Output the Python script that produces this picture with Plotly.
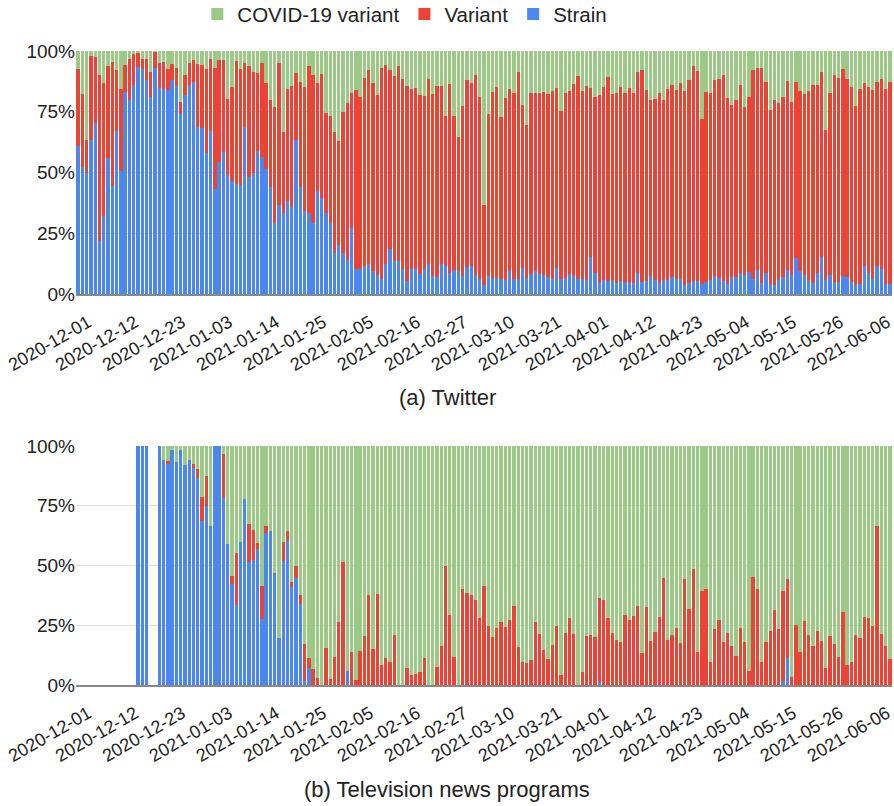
import pandas as pd
import plotly.graph_objects as go

dates = [d.strftime("%Y-%m-%d") for d in pd.date_range("2020-12-01", periods=191, freq="D")]
tick_dates = dates[0:191:11]

# ---------------- (a) Twitter: share of each term (%) ----------------
tw_strain = [61.1, 52.1, 49.9, 63.4, 70.3, 21.8, 32.2, 55.9, 44.5, 67.1, 50.7, 83.0, 79.7, 86.0, 93.3, 92.5,
             88.2, 81.0, 93.0, 84.9, 84.2, 84.0, 87.9, 85.8, 74.2, 81.9, 85.9, 87.4, 68.6, 68.4, 57.9, 67.1,
             43.2, 54.2, 58.6, 48.9, 46.6, 45.3, 44.8, 68.6, 48.2, 49.9, 58.9, 56.4, 51.4, 44.1, 29.3, 36.7,
             33.4, 38.4, 35.8, 63.4, 44.1, 34.0, 33.3, 29.2, 42.2, 39.5, 33.3, 29.2, 16.8, 20.0, 16.8, 14.0,
             27.1, 10.3, 10.3, 11.4, 12.5, 9.6, 7.7, 6.2, 12.3, 18.4, 13.7, 13.4, 10.3, 5.5, 10.3, 10.3,
             8.4, 10.1, 12.5, 7.3, 7.0, 12.5, 11.6, 8.5, 9.7, 9.5, 7.3, 11.0, 11.5, 7.8, 6.2, 3.6,
             7.3, 6.7, 6.6, 6.2, 5.6, 9.5, 6.2, 6.2, 10.7, 6.6, 8.2, 9.3, 8.4, 7.8, 7.0, 6.0,
             10.8, 6.0, 6.7, 8.2, 7.3, 6.2, 6.0, 5.8, 15.3, 8.6, 4.7, 5.8, 5.5, 5.8, 4.7, 5.2,
             5.1, 4.4, 4.7, 8.6, 4.9, 5.3, 7.5, 5.6, 4.7, 5.8, 5.6, 7.0, 6.2, 6.2, 3.8, 4.7,
             5.2, 5.3, 4.1, 5.1, 5.8, 7.3, 6.7, 5.3, 4.1, 6.8, 6.8, 8.6, 7.8, 9.2, 6.0, 9.9,
             4.7, 8.6, 4.1, 3.8, 5.8, 7.0, 10.0, 7.8, 14.9, 9.3, 7.8, 5.8, 4.7, 8.6, 15.3, 5.8,
             7.7, 5.1, 5.1, 7.3, 7.0, 5.1, 3.8, 4.1, 11.6, 8.5, 6.2, 11.6, 10.1, 4.1, 4.1]
tw_variant = [31.5, 30.2, 13.5, 34.7, 27.1, 68.3, 54.5, 37.8, 51.0, 25.2, 33.7, 11.2, 16.9, 12.6, 5.9, 4.1,
              8.4, 10.2, 6.6, 10.0, 11.3, 8.6, 6.8, 7.2, 5.0, 8.2, 9.0, 8.9, 26.1, 25.7, 34.7, 29.5,
              50.0, 42.1, 37.7, 31.4, 38.7, 50.6, 47.8, 26.3, 45.6, 41.5, 32.1, 38.5, 35.3, 35.8, 47.7, 58.2,
              33.2, 46.0, 49.7, 27.4, 43.3, 51.2, 60.4, 61.1, 44.5, 51.0, 41.1, 44.1, 49.8, 43.0, 58.3, 64.8,
              55.8, 73.8, 70.7, 77.6, 79.7, 77.4, 74.2, 86.8, 81.9, 73.8, 76.0, 80.3, 78.1, 80.3, 73.9, 74.5,
              73.5, 71.3, 76.1, 75.0, 78.8, 73.0, 61.7, 77.9, 63.6, 55.2, 70.2, 76.9, 75.5, 82.5, 75.0, 33.0,
              66.8, 76.5, 78.7, 66.5, 75.2, 74.7, 76.7, 85.0, 67.1, 63.0, 74.4, 73.6, 74.5, 75.5, 75.3, 77.6,
              73.9, 69.3, 76.2, 75.5, 79.1, 83.4, 77.7, 79.8, 69.4, 72.4, 77.2, 79.4, 83.7, 76.5, 77.9, 80.0,
              77.8, 80.3, 77.9, 82.8, 87.4, 78.8, 72.2, 74.8, 78.2, 74.1, 78.8, 79.0, 77.8, 80.8, 79.8, 83.2,
              88.5, 86.5, 68.1, 78.2, 76.9, 80.8, 81.9, 85.0, 76.7, 71.0, 73.1, 77.6, 69.2, 71.9, 86.3, 83.1,
              88.3, 78.5, 71.7, 76.2, 72.7, 74.2, 77.7, 71.1, 72.2, 74.4, 74.5, 77.8, 81.5, 77.6, 76.1, 61.7,
              75.0, 85.2, 83.9, 85.3, 81.4, 80.2, 73.6, 80.1, 75.1, 76.6, 77.9, 75.8, 78.5, 80.4, 83.3]
tw_covid = [7.4, 17.7, 36.6, 1.9, 2.6, 9.9, 13.3, 6.3, 4.5, 7.7, 15.6, 5.8, 3.4, 1.4, 0.8, 3.4,
            3.4, 8.8, 0.4, 5.1, 4.5, 7.4, 5.3, 7.0, 20.8, 9.9, 5.1, 3.7, 5.3, 5.9, 7.4, 3.4,
            6.8, 3.7, 3.7, 19.7, 14.7, 4.1, 7.4, 5.1, 6.2, 8.6, 9.0, 5.1, 13.3, 20.1, 23.0, 5.1,
            33.4, 15.6, 14.5, 9.2, 12.6, 14.8, 6.3, 9.7, 13.3, 9.5, 25.6, 26.7, 33.4, 37.0, 24.9, 21.2,
            17.1, 15.9, 19.0, 11.0, 7.8, 13.0, 18.1, 7.0, 5.8, 7.8, 10.3, 6.3, 11.6, 14.2, 15.8, 15.2,
            18.1, 18.6, 11.4, 17.7, 14.2, 14.5, 26.7, 13.6, 26.7, 35.3, 22.5, 12.1, 13.0, 9.7, 18.8, 63.4,
            25.9, 16.8, 14.7, 27.3, 19.2, 15.8, 17.1, 8.8, 22.2, 30.4, 17.4, 17.1, 17.1, 16.7, 17.7, 16.4,
            15.3, 24.7, 17.1, 16.3, 13.6, 10.4, 16.3, 14.4, 15.3, 19.0, 18.1, 14.8, 10.8, 17.7, 17.4, 14.8,
            17.1, 15.3, 17.4, 8.6, 7.7, 15.9, 20.3, 19.6, 17.1, 20.1, 15.6, 14.0, 16.0, 13.0, 16.4, 12.1,
            6.3, 8.2, 27.8, 16.7, 17.3, 11.9, 11.4, 9.7, 19.2, 22.2, 20.1, 13.8, 23.0, 18.9, 7.7, 7.0,
            7.0, 12.9, 24.2, 20.0, 21.5, 18.8, 12.3, 21.1, 12.9, 16.3, 17.7, 16.4, 13.8, 13.8, 8.6, 32.5,
            17.3, 9.7, 11.0, 7.4, 11.6, 14.7, 22.6, 15.8, 13.3, 14.9, 15.9, 12.6, 11.4, 15.5, 12.6]

# ---------------- (b) Television news programs (%) ----------------
N = None
tv_strain = [N, N, N, N, N, N, N, N, N, N, N, N, N, N, 100, 100,
             100, N, N, 100, 94.0, 92.5, 98.2, 93.3, 98.2, 92.2, 94.0, 90.7, 86.4, 68.5, 74.8, 66.4,
             100, 100, 78.4, 58.9, 42.2, 33.3, 59.9, 77.7, 51.5, 52.2, 57.1, 27.6, 63.4, 64.3, 46.7, 19.8,
             51.8, 60.3, 41.1, 44.6, 33.7, 1.8, 7.2, 0, 0, 0, 0, 0, 0, 0, 0, 6.0,
             0, 0, 0, 0, 0, 0, 0, 0, 0, 0, 0, 0, 0, 0, 0, 0,
             0, 0, 0, 0, 0, 0, 0, 0, 0, 0, 0, 0, 0, 0, 0, 0,
             0, 0, 0, 0, 0, 0, 0, 0, 0, 0, 0, 0, 0, 0, 0, 0,
             0, 0, 0, 0, 0, 0, 0, 0, 0, 0, 1.1, 0, 0, 0, 0, 0,
             0, 0, 0, 0, 0, 0, 0, 0, 0, 0, 0, 0, 0, 0, 0, 0,
             0, 0, 0, 0, 0, 0, 0, 0, 0, 0, 0, 0, 0, 0, 0, 0,
             0, 0, 0, 0, 0, 1.8, 11.1, 0, 0, 0, 0, 0, 0, 0, 0, 0,
             0, 0, 0, 0, 0, 0, 0, 0, 0, 0, 0, 0, 0, 0, 0]
tv_variant = [N, N, N, N, N, N, N, N, N, N, N, N, N, N, 0, 0,
              0, N, N, 0, 0, 1.1, 0, 0, 0, 0, 0, 1.9, 3.9, 10.2, 12.7, 0,
              0, 0, 18.1, 0, 3.3, 22.1, 0, 0, 16.0, 12.6, 2.4, 13.8, 3.0, 0, 0, 0,
              8.1, 4.0, 2.1, 5.3, 3.9, 15.3, 3.9, 6.7, 3.1, 0, 15.6, 2.5, 11.8, 26.5, 51.5, 0,
              13.9, 2.1, 14.2, 20.5, 37.6, 14.9, 38.0, 8.4, 11.1, 9.7, 20.9, 0, 0, 7.2, 4.2, 4.6,
              5.3, 11.1, 0, 0, 7.7, 16.4, 49.9, 29.2, 11.8, 0, 40.0, 38.6, 37.6, 35.5, 28.1, 41.5,
              24.8, 20.2, 24.0, 26.5, 24.4, 27.2, 33.1, 15.9, 9.5, 9.2, 10.3, 26.2, 21.3, 14.6, 10.7, 16.7,
              24.8, 4.2, 21.6, 27.9, 21.2, 0, 5.6, 20.3, 20.8, 20.1, 35.5, 35.5, 27.9, 21.9, 18.8, 18.1,
              29.2, 27.2, 28.8, 33.1, 13.4, 32.5, 18.4, 22.3, 28.4, 44.6, 18.8, 20.9, 24.0, 17.4, 44.3, 32.0,
              48.5, 13.9, 39.3, 40.1, 9.7, 23.4, 27.0, 18.1, 21.6, 16.4, 12.3, 24.0, 17.8, 5.8, 45.3, 40.0,
              9.5, 18.1, 22.6, 31.3, 23.3, 37.5, 33.2, 3.5, 25.1, 13.6, 26.7, 20.9, 16.4, 22.8, 18.4, 7.0,
              20.3, 17.1, 11.8, 30.6, 8.4, 9.5, 20.9, 19.8, 28.3, 28.0, 24.8, 66.4, 21.2, 16.4, 10.7]
tv_covid = [N, N, N, N, N, N, N, N, N, N, N, N, N, N, 0, 0,
            0, N, N, 0, 6.0, 6.4, 1.8, 6.7, 1.8, 7.8, 6.0, 7.4, 9.7, 21.3, 12.5, 33.6,
            0, 0, 3.5, 41.1, 54.5, 44.6, 40.1, 22.3, 32.5, 35.2, 40.5, 58.6, 33.6, 35.7, 53.3, 80.2,
            40.1, 35.7, 56.8, 50.1, 62.4, 82.9, 88.9, 93.3, 96.9, 100, 84.4, 97.5, 88.2, 73.5, 48.5, 94.0,
            86.1, 97.9, 85.8, 79.5, 62.4, 85.1, 62.0, 91.6, 88.9, 90.3, 79.1, 100, 100, 92.8, 95.8, 95.4,
            94.7, 88.9, 100, 100, 92.3, 83.6, 50.1, 70.8, 88.2, 100, 60.0, 61.4, 62.4, 64.5, 71.9, 58.5,
            75.2, 79.8, 76.0, 73.5, 75.6, 72.8, 66.9, 84.1, 90.5, 90.8, 89.7, 73.8, 78.7, 85.4, 89.3, 83.3,
            75.2, 95.8, 78.4, 72.1, 78.8, 100, 94.4, 79.7, 79.2, 79.9, 63.4, 64.5, 72.1, 78.1, 81.2, 81.9,
            70.8, 72.8, 71.2, 66.9, 86.6, 67.5, 81.6, 77.7, 71.6, 55.4, 81.2, 79.1, 76.0, 82.6, 55.7, 68.0,
            51.5, 86.1, 60.7, 59.9, 90.3, 76.6, 73.0, 81.9, 78.4, 83.6, 87.7, 76.0, 82.2, 94.2, 54.7, 60.0,
            90.5, 81.9, 77.4, 68.7, 76.7, 60.7, 55.7, 96.5, 74.9, 86.4, 73.3, 79.1, 83.6, 77.2, 81.6, 93.0,
            79.7, 82.9, 88.2, 69.4, 91.6, 90.5, 79.1, 80.2, 71.7, 72.0, 75.2, 33.6, 78.8, 83.6, 89.3]

pct_ticks = [0, 25, 50, 75, 100]
pct_labels = ["0%", "25%", "50%", "75%", "100%"]

COL_STRAIN = "#4a87ee"
COL_VARIANT = "#ec4434"
COL_COVID = "#9dc986"
FONT = "Liberation Sans, Arial, sans-serif"

fig = go.Figure()
panels = [("x", "y", tw_strain, tw_variant, tw_covid, True),
          ("x2", "y2", tv_strain, tv_variant, tv_covid, False)]
for xa, ya, s, v, c, show in panels:
    fig.add_trace(go.Bar(x=dates, y=s, name="Strain", marker_color=COL_STRAIN, marker_line_width=0,
                         xaxis=xa, yaxis=ya, showlegend=show, legendgroup="s"))
    fig.add_trace(go.Bar(x=dates, y=v, name="Variant", marker_color=COL_VARIANT, marker_line_width=0,
                         xaxis=xa, yaxis=ya, showlegend=show, legendgroup="v"))
    fig.add_trace(go.Bar(x=dates, y=c, name="COVID-19 variant", marker_color=COL_COVID, marker_line_width=0,
                         xaxis=xa, yaxis=ya, showlegend=show, legendgroup="c"))

xcommon = dict(type="category", categoryorder="array", categoryarray=dates,
               tickmode="array", tickvals=tick_dates, ticktext=tick_dates,
               tickangle=-30, tickfont=dict(size=18, color="#222", family=FONT),
               ticklabelshift=10, ticklabelstandoff=9,
               showgrid=False, showline=True, linecolor="#888", linewidth=2, ticks="",
               range=[-0.5, 190.5], automargin=False)
ycommon = dict(range=[0, 100], tickmode="array", tickvals=pct_ticks, ticktext=pct_labels,
               tickfont=dict(size=19, color="#222", family=FONT), showgrid=True,
               gridcolor="#dcdcdc", gridwidth=1, zeroline=False, ticks="", showline=False,
               automargin=False)

fig.update_layout(
    width=894, height=806,
    margin=dict(l=76, r=2, t=51, b=121, autoexpand=False),
    barmode="stack", bargap=0.22,
    plot_bgcolor="white", paper_bgcolor="white",
    font=dict(family=FONT, color="#222"),
    xaxis=dict(domain=[0, 1], anchor="y", **xcommon),
    yaxis=dict(domain=[0.6167, 1], anchor="x", **ycommon),
    xaxis2=dict(domain=[0, 1], anchor="y2", **xcommon),
    yaxis2=dict(domain=[0, 0.377], anchor="x2", **ycommon),
    legend=dict(orientation="h", x=0.403, xanchor="center", y=1.058, yanchor="middle",
                traceorder="reversed", font=dict(size=20.5, color="#222", family=FONT),
                bgcolor="rgba(0,0,0,0)"),
    annotations=[
        dict(text="(a) Twitter", x=0.4547, y=0.4527, xref="paper", yref="paper",
             xanchor="center", yanchor="middle",
             showarrow=False, font=dict(size=22, color="#222", family=FONT)),
        dict(text="(b) Television news programs", x=0.4547, y=-0.1656, xref="paper", yref="paper",
             xanchor="center", yanchor="middle",
             showarrow=False, font=dict(size=22, color="#222", family=FONT)),
    ],
)

fig.write_html("out.html", config={"displayModeBar": False},
               post_script="document.body.style.margin='0';document.body.style.padding='0';")
